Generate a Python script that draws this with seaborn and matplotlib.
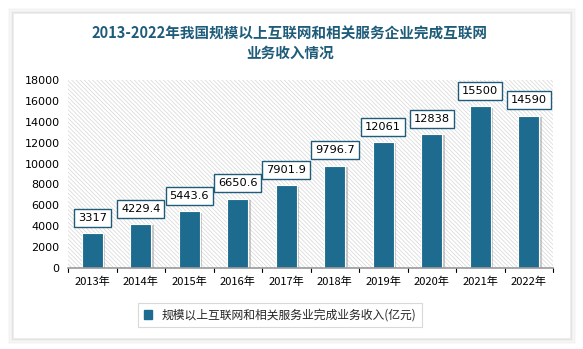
import matplotlib
matplotlib.use("Agg")
import matplotlib.pyplot as plt
import matplotlib.patches as mpatches
import matplotlib.patheffects as pe
import seaborn as sns
import pandas as pd

years = ["2013年", "2014年", "2015年", "2016年", "2017年", "2018年", "2019年", "2020年", "2021年", "2022年"]
revenue = [3317, 4229.4, 5443.6, 6650.6, 7901.9, 9796.7, 12061, 12838, 15500, 14590]
labels = ["3317", "4229.4", "5443.6", "6650.6", "7901.9", "9796.7", "12061", "12838", "15500", "14590"]
series_name = "规模以上互联网和相关服务业完成业务收入(亿元)"
title = "2013-2022年我国规模以上互联网和相关服务企业完成互联网\n业务收入情况"

sns.set_theme(style="white")
plt.rcParams['font.family'] = ['Noto Sans CJK SC', 'DejaVu Sans']
plt.rcParams['hatch.linewidth'] = 0.5

bar_color = '#1d6b8f'
teal = '#1f5c7a'

df = pd.DataFrame({"year": years, "value": revenue})

fig = plt.figure(figsize=(5.83, 3.49), dpi=100)
fig.patch.set_facecolor('white')

# card with soft shadow
for i, a in enumerate([0.12, 0.09, 0.06, 0.03]):
    pad = (i + 0.5) * 1.5
    fig.patches.append(mpatches.Rectangle(((14-pad)/583, 1-(338+pad)/349), (570-14+2*pad)/583, (338-14+2*pad)/349,
                          transform=fig.transFigure, facecolor='none', edgecolor='#777777',
                          linewidth=1.5, alpha=a, zorder=-3))
card = mpatches.Rectangle((14/583, 1-338/349), (570-14)/583, (338-14)/349,
                          transform=fig.transFigure, facecolor='white', edgecolor='none', zorder=-2)
fig.patches.append(card)

ax = fig.add_axes([68/583, 1-268/349, (553-68)/583, (268-80)/349])
ax.set_facecolor('white')
bg = mpatches.Rectangle((0, 0), 1, 1, transform=ax.transAxes, facecolor='white',
                        edgecolor='#d6d6d6', linewidth=0, hatch='\\' * 8, zorder=0.5)
ax.add_patch(bg)

sns.barplot(data=df, x="year", y="value", color=bar_color, width=0.43, ax=ax,
            saturation=1, edgecolor='white', linewidth=0.8, zorder=2)
for p in ax.patches:
    if p.get_zorder() == 2:
        p.set_path_effects([pe.SimplePatchShadow(offset=(2, -1), shadow_rgbFace='#999999', alpha=0.5), pe.Normal()])

for i, (v, t) in enumerate(zip(revenue, labels)):
    ax.annotate(t, (i, v), xytext=(0, 11), textcoords='offset points', ha='center', va='center',
                fontsize=8.2, color='black', family=['DejaVu Sans'],
                bbox=dict(boxstyle='square,pad=0.35', facecolor='white', edgecolor=teal, linewidth=1),
                zorder=5)

ax.set_ylim(0, 18000)
ax.set_xlim(-0.5, 9.5)
ax.set_yticks(range(0, 18001, 2000))
ax.set_yticklabels([str(v) for v in range(0, 18001, 2000)], fontsize=8, family=['DejaVu Sans'])
ax.tick_params(axis='y', length=0, pad=6, colors='black')
ax.set_xticks(range(10))
ax.set_xticklabels(years, fontsize=8)
ax.tick_params(axis='x', length=0, pad=6, colors='black')
for b in [k + 0.5 for k in range(-1, 10)]:
    ax.plot([b, b], [0, -0.02], transform=ax.get_xaxis_transform(), color='black', lw=0.8, clip_on=False)
ax.set_xlabel("")
ax.set_ylabel("")
for s in ['left', 'right', 'top']:
    ax.spines[s].set_visible(False)
ax.spines['bottom'].set_color('#999999')
ax.spines['bottom'].set_linewidth(1.2)

fig.text(0.497, 1-43/349, title, ha='center', va='center', fontsize=10.5, fontweight='bold',
         color=teal, linespacing=1.25)

handle = mpatches.Patch(color=bar_color, label=series_name)
leg = fig.legend(handles=[handle], loc='center', bbox_to_anchor=(280/583, 1-315/349),
                 fontsize=8.5, frameon=True, handlelength=0.7, handleheight=0.7, fancybox=False,
                 borderpad=0.5)
leg.get_frame().set_edgecolor('#d0d0d0')
leg.get_frame().set_linewidth(0.8)

fig.savefig("out.png", dpi=100)
